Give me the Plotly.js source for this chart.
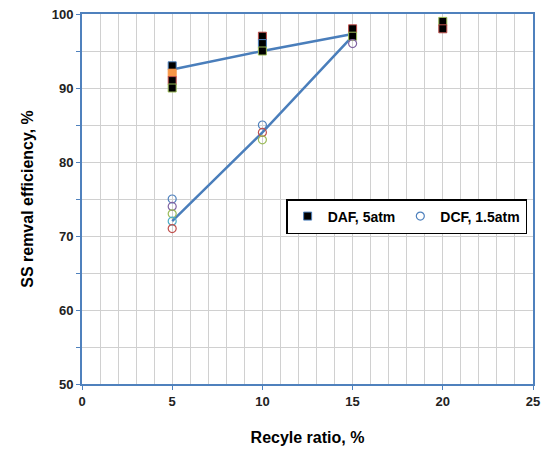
<!DOCTYPE html>
<html><head><meta charset="utf-8">
<script src="https://cdn.plot.ly/plotly-3.0.1.min.js"></script>
<style>html,body{margin:0;padding:0;background:#fff}#c{width:541px;height:450px}</style>
</head><body><div id="c"></div>
<script>
// DAF, 5atm measurements
const dafX = [5, 5, 5, 5, 10, 10, 10, 15, 15, 20, 20];
const dafY = [93, 92, 91, 90, 97, 96, 95, 98, 97, 99, 98];
const dafEdge = ['#4F81BD','#F79646','#C0504D','#9BBB59','#C0504D','#4F81BD','#9BBB59','#C0504D','#9BBB59','#9BBB59','#C0504D'];
const dafFill = ['#000','#F79646','#000','#000','#000','#000','#000','#000','#000','#000','#000'];
// DCF, 1.5atm measurements
const dcfX = [5, 5, 5, 5, 5, 10, 10, 10, 15];
const dcfY = [75, 74, 73, 72, 71, 85, 84, 83, 96];
const dcfEdge = ['#4F81BD','#8064A2','#9BBB59','#4BACC6','#C0504D','#4F81BD','#C0504D','#9BBB59','#8064A2'];
// trend lines
const trendX = [5, 10, 15];
const dafTrend = [92.5, 95, 97.3];
const dcfTrend = [72, 84, 97];

const traces = [
  {x: trendX, y: dafTrend, mode: 'lines', line: {color: '#4A7EBB', width: 2.5}, showlegend: false, hoverinfo: 'skip'},
  {x: trendX, y: dcfTrend, mode: 'lines', line: {color: '#4A7EBB', width: 2.5}, showlegend: false, hoverinfo: 'skip'},
  {x: dafX, y: dafY, mode: 'markers', name: 'DAF, 5atm',
   marker: {symbol: 'square', size: 8, color: dafFill, line: {color: dafEdge, width: 1}}},
  {x: dcfX, y: dcfY, mode: 'markers', name: 'DCF, 1.5atm',
   marker: {symbol: 'circle-open', size: 8, color: dcfEdge, line: {width: 1.2}}}
];

const fam = 'Liberation Sans, Arial, sans-serif';
const tickFont = {family: fam, size: 13, color: '#222', weight: 'bold'};
const layout = {
  width: 541, height: 450,
  margin: {l: 82, r: 8, t: 14, b: 66},
  paper_bgcolor: '#fff', plot_bgcolor: '#fff',
  showlegend: true,
  legend: {orientation: 'h', x: 0.987, xanchor: 'right', y: 0.5, yanchor: 'top',
    bgcolor: '#fff', bordercolor: '#000', borderwidth: 1.5,
    font: {family: fam, size: 14, color: '#000', weight: 'bold'},
    itemwidth: 30, tracegroupgap: 0},
  xaxis: {range: [0, 25], dtick: 5, tick0: 0, showgrid: true, gridcolor: '#D0D0D0', gridwidth: 1,
    minor: {dtick: 1, showgrid: true, gridcolor: '#D0D0D0', gridwidth: 1},
    zeroline: false, showline: true, linecolor: '#4F81BD', linewidth: 2, mirror: true,
    ticks: 'outside', ticklen: 4, tickcolor: '#4F81BD', tickfont: tickFont,
    title: {text: 'Recyle ratio, %', font: {family: fam, size: 16, color: '#000', weight: 'bold'}, standoff: 24}},
  yaxis: {range: [50, 100], dtick: 10, tick0: 50, showgrid: true, gridcolor: '#D0D0D0', gridwidth: 1,
    minor: {dtick: 5, showgrid: true, gridcolor: '#D0D0D0', gridwidth: 1, ticks: 'outside', ticklen: 4, tickcolor: '#4F81BD'},
    zeroline: false, showline: true, linecolor: '#4F81BD', linewidth: 2, mirror: true,
    ticks: 'outside', ticklen: 4, tickcolor: '#4F81BD', tickfont: tickFont,
    title: {text: 'SS remval efficiency, %', font: {family: fam, size: 16, color: '#000', weight: 'bold'}, standoff: 14}}
};
Plotly.newPlot('c', traces, layout, {displayModeBar: false, staticPlot: true});
</script></body></html>
